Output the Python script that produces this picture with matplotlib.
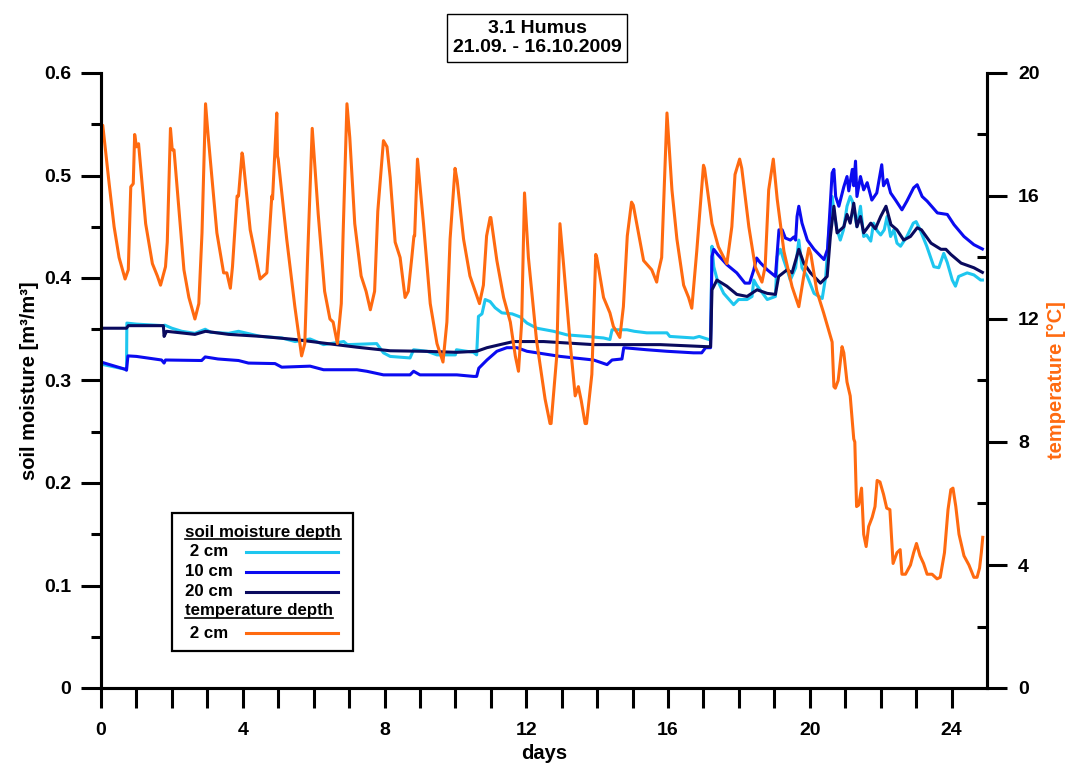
import matplotlib
matplotlib.use("Agg")
import matplotlib.pyplot as plt
import numpy as np
from matplotlib.lines import Line2D
from matplotlib.patches import Rectangle
from matplotlib.ticker import FixedLocator

plt.rcParams['font.family'] = ['Liberation Sans', 'DejaVu Sans']
plt.rcParams['font.weight'] = 'bold'
plt.rcParams['axes.labelweight'] = 'bold'

# soil moisture 2 cm
sm2_day = [0.0, 0.68, 0.72, 0.73, 1.0, 1.76, 1.8, 2.0, 2.28, 2.65, 2.94, 3.1, 3.6, 3.88, 4.5,
           5.1, 5.48, 5.9, 6.28, 6.85, 6.95, 7.78, 7.97, 8.16, 8.72, 8.82, 9.2, 9.48, 10.0,
           10.03, 10.51, 10.6, 10.65, 10.75, 10.84, 10.98, 11.12, 11.31, 11.6, 11.83, 12.02,
           12.3, 12.77, 13.15, 13.71, 14.18, 14.36, 14.42, 14.84, 15.05, 15.4, 15.97, 16.05,
           16.72, 16.88, 17.15, 17.2, 17.24, 17.29, 17.39, 17.57, 17.85, 17.99, 18.23, 18.37,
           18.42, 18.5, 18.8, 19.03, 19.08, 19.17, 19.26, 19.36, 19.45, 19.6, 19.69, 19.78,
           19.93, 20.12, 20.35, 20.45, 20.54, 20.63, 20.7, 20.77, 20.86, 20.95, 21.05, 21.14,
           21.2, 21.33, 21.43, 21.52, 21.6, 21.72, 21.8, 21.9, 22.0, 22.1, 22.18, 22.28, 22.37,
           22.46, 22.56, 22.74, 22.92, 23.0, 23.1, 23.3, 23.5, 23.64, 23.78, 23.88, 24.02,
           24.11, 24.2, 24.44, 24.63, 24.82, 24.87]
sm2 = [0.316, 0.311, 0.311, 0.356, 0.355, 0.3535, 0.354, 0.351, 0.348, 0.346, 0.350, 0.347,
       0.346, 0.348, 0.343, 0.3415, 0.338, 0.3405, 0.335, 0.338, 0.335, 0.336, 0.327, 0.3235,
       0.322, 0.330, 0.3285, 0.325, 0.325, 0.330, 0.3275, 0.325, 0.3625, 0.365, 0.379, 0.377,
       0.371, 0.366, 0.365, 0.362, 0.356, 0.351, 0.348, 0.3445, 0.343, 0.3415, 0.340, 0.3495,
       0.3495, 0.348, 0.3465, 0.3465, 0.343, 0.3415, 0.343, 0.340, 0.340, 0.431, 0.411, 0.398,
       0.385, 0.374, 0.379, 0.379, 0.382, 0.398, 0.393, 0.379, 0.382, 0.421, 0.428, 0.418,
       0.408, 0.398, 0.410, 0.437, 0.410, 0.4015, 0.385, 0.380, 0.4015, 0.447, 0.4795, 0.460,
       0.447, 0.437, 0.447, 0.470, 0.4795, 0.475, 0.450, 0.470, 0.4405, 0.442, 0.436, 0.4535,
       0.446, 0.442, 0.447, 0.460, 0.4405, 0.447, 0.434, 0.431, 0.4405, 0.4535, 0.455, 0.448,
       0.431, 0.411, 0.410, 0.424, 0.415, 0.398, 0.392, 0.4015, 0.405, 0.403, 0.398, 0.398]

# soil moisture 10 cm
sm10_day = [0.0, 0.68, 0.72, 0.76, 1.0, 1.71, 1.78, 1.82, 2.84, 2.94, 3.3, 3.88, 4.16, 4.91,
            5.1, 5.9, 6.28, 7.22, 7.5, 7.97, 8.72, 8.82, 9.0, 10.04, 10.51, 10.6, 10.66, 10.89,
            11.17, 11.45, 11.74, 12.02, 12.96, 13.9, 14.28, 14.42, 14.7, 14.75, 15.4, 15.97,
            16.72, 16.95, 17.06, 17.2, 17.24, 17.29, 17.4, 17.66, 17.94, 18.17, 18.3, 18.42,
            18.5, 18.6, 18.8, 19.03, 19.13, 19.22, 19.31, 19.45, 19.55, 19.6, 19.64, 19.69,
            19.78, 19.93, 20.12, 20.4, 20.5, 20.54, 20.63, 20.68, 20.73, 20.82, 20.96, 21.05,
            21.1, 21.2, 21.24, 21.29, 21.33, 21.43, 21.52, 21.62, 21.75, 21.89, 22.03, 22.08,
            22.18, 22.28, 22.42, 22.6, 22.74, 22.93, 23.03, 23.17, 23.31, 23.6, 23.88, 24.07,
            24.35, 24.63, 24.87]
sm10 = [0.318, 0.311, 0.310, 0.324, 0.3235, 0.320, 0.317, 0.320, 0.3195, 0.323, 0.321, 0.3195,
        0.317, 0.3165, 0.313, 0.314, 0.3105, 0.3105, 0.309, 0.3055, 0.3055, 0.309, 0.3055,
        0.3055, 0.304, 0.304, 0.312, 0.320, 0.3285, 0.332, 0.332, 0.3285, 0.3235, 0.320,
        0.3155, 0.320, 0.321, 0.332, 0.330, 0.3285, 0.327, 0.327, 0.332, 0.332, 0.421, 0.428,
        0.423, 0.413, 0.405, 0.395, 0.395, 0.408, 0.4195, 0.415, 0.408, 0.4015, 0.447, 0.447,
        0.439, 0.437, 0.440, 0.437, 0.460, 0.470, 0.4535, 0.437, 0.428, 0.418, 0.428, 0.450,
        0.5025, 0.506, 0.4795, 0.470, 0.489, 0.499, 0.485, 0.506, 0.490, 0.514, 0.4795, 0.499,
        0.486, 0.493, 0.476, 0.483, 0.5105, 0.490, 0.496, 0.483, 0.476, 0.4665, 0.475, 0.488,
        0.491, 0.4795, 0.475, 0.4635, 0.462, 0.452, 0.4405, 0.4325, 0.4283]

# soil moisture 20 cm
sm20_day = [0.0, 0.72, 0.77, 1.76, 1.78, 1.85, 2.65, 2.95, 3.6, 4.54, 5.48, 6.28, 7.22, 8.16,
            9.1, 10.04, 10.6, 10.89, 11.26, 11.64, 12.49, 13.9, 15.78, 17.1, 17.2, 17.24,
            17.38, 17.66, 17.94, 18.23, 18.51, 18.8, 19.03, 19.12, 19.36, 19.5, 19.69, 19.83,
            20.02, 20.3, 20.49, 20.58, 20.68, 20.77, 20.96, 21.05, 21.14, 21.24, 21.33, 21.43,
            21.52, 21.72, 21.85, 22.0, 22.15, 22.29, 22.46, 22.65, 22.84, 23.03, 23.15, 23.42,
            23.7, 23.84, 23.98, 24.27, 24.63, 24.87]
sm20 = [0.351, 0.351, 0.3535, 0.3535, 0.343, 0.348, 0.345, 0.348, 0.345, 0.343, 0.340, 0.3365,
        0.3325, 0.329, 0.3285, 0.3275, 0.3285, 0.332, 0.335, 0.338, 0.338, 0.335, 0.335, 0.333,
        0.333, 0.3885, 0.398, 0.392, 0.384, 0.382, 0.3885, 0.385, 0.384, 0.4015, 0.408, 0.405,
        0.428, 0.4145, 0.405, 0.395, 0.4015, 0.4405, 0.470, 0.444, 0.450, 0.462, 0.4535, 0.473,
        0.450, 0.460, 0.444, 0.4535, 0.448, 0.460, 0.470, 0.452, 0.447, 0.437, 0.4405, 0.449,
        0.447, 0.434, 0.428, 0.428, 0.423, 0.4145, 0.410, 0.4055]

# temperature 2 cm
t_day = [0.0, 0.05, 0.23, 0.37, 0.51, 0.68, 0.77, 0.84, 0.91, 0.95, 1.0, 1.06, 1.26, 1.45, 1.59,
         1.68, 1.82, 1.87, 1.96, 2.01, 2.06, 2.34, 2.48, 2.65, 2.76, 2.85, 2.95, 3.02, 3.27,
         3.46, 3.55, 3.65, 3.71, 3.84, 3.88, 3.98, 4.0, 4.21, 4.44, 4.49, 4.68, 4.72, 4.82,
         4.84, 4.96, 4.98, 5.0, 5.24, 5.47, 5.66, 5.75, 5.83, 5.96, 6.13, 6.31, 6.46, 6.55,
         6.67, 6.78, 6.83, 6.94, 7.02, 7.16, 7.34, 7.48, 7.6, 7.72, 7.81, 7.97, 8.07, 8.16,
         8.30, 8.44, 8.58, 8.67, 8.77, 8.83, 8.85, 8.93, 9.1, 9.29, 9.48, 9.65, 9.76, 9.85,
         9.99, 10.05, 10.23, 10.41, 10.68, 10.79, 10.88, 10.98, 11.0, 11.17, 11.36, 11.55,
         11.69, 11.78, 11.87, 11.95, 12.06, 12.29, 12.53, 12.67, 12.70, 12.86, 12.95, 13.05,
         13.24, 13.38, 13.47, 13.55, 13.66, 13.70, 13.85, 13.96, 13.99, 14.18, 14.36, 14.46,
         14.49, 14.64, 14.74, 14.85, 14.97, 15.02, 15.15, 15.31, 15.54, 15.68, 15.72, 15.82,
         15.97, 16.11, 16.25, 16.44, 16.58, 16.67, 16.81, 17.0, 17.03, 17.24, 17.42, 17.66,
         17.80, 17.89, 18.02, 18.08, 18.28, 18.46, 18.65, 18.74, 18.84, 18.97, 19.08, 19.27,
         19.5, 19.69, 19.83, 19.97, 20.03, 20.2, 20.39, 20.44, 20.54, 20.63, 20.68, 20.72,
         20.8, 20.91, 20.96, 21.05, 21.14, 21.24, 21.27, 21.32, 21.38, 21.46, 21.52, 21.59,
         21.66, 21.76, 21.84, 21.9, 21.98, 22.08, 22.17, 22.26, 22.35, 22.46, 22.55, 22.6,
         22.7, 22.84, 22.93, 23.01, 23.11, 23.21, 23.31, 23.45, 23.59, 23.68, 23.8, 23.9,
         23.98, 24.04, 24.12, 24.21, 24.35, 24.49, 24.63, 24.72, 24.79, 24.84, 24.88]
temp = [18.3, 18.3, 16.4, 15.0, 14.0, 13.3, 13.6, 16.3, 16.4, 18.0, 17.6, 17.7, 15.1, 13.8, 13.4,
        13.1, 13.7, 14.5, 18.2, 17.5, 17.5, 13.6, 12.7, 12.0, 12.5, 14.8, 19.0, 18.0, 14.8,
        13.5, 13.5, 13.0, 13.7, 16.0, 16.0, 17.4, 17.3, 14.9, 13.6, 13.3, 13.5, 14.2, 16.0,
        15.9, 18.7, 17.3, 17.2, 14.6, 12.4, 10.8, 11.2, 14.0, 18.2, 15.4, 12.9, 12.0, 11.9,
        11.2, 12.5, 14.7, 19.0, 17.9, 15.1, 13.4, 12.9, 12.3, 12.9, 15.5, 17.8, 17.6, 16.6,
        14.5, 14.0, 12.7, 12.9, 14.0, 14.7, 14.7, 17.2, 15.1, 12.5, 11.2, 10.6, 11.9, 14.6,
        16.9, 16.5, 14.6, 13.4, 12.5, 13.1, 14.7, 15.3, 15.3, 13.9, 12.7, 11.9,
        10.8, 10.3, 11.9, 16.1, 14.0, 11.3, 9.4, 8.6, 8.6, 10.8, 15.1, 13.8,
        11.2, 9.5, 9.8, 9.35, 8.6, 8.6, 10.2, 14.1, 14.0, 12.7, 12.2, 11.75,
        11.7, 11.4, 12.4, 14.7, 15.8, 15.7, 14.9, 13.9, 13.6, 13.2, 13.5, 14.0,
        18.7, 16.2, 14.6, 13.1, 12.7, 12.35, 14.2, 17.0, 16.9, 15.1, 14.35, 13.8,
        15.0, 16.7, 17.2, 16.9, 15.0, 13.7, 13.2, 13.7, 16.2, 17.2, 15.9, 14.2,
        13.05, 12.4, 13.4, 14.3, 14.1, 12.9, 12.2, 12.0, 11.6, 11.25, 9.8, 9.75,
        10.0, 11.1, 10.9, 9.95, 9.5, 8.1, 8.0, 5.9, 5.95, 6.5, 5.0, 4.6,
        5.25, 5.55, 5.9, 6.75, 6.7, 6.3, 5.85, 5.8, 4.05, 4.4, 4.5, 3.7,
        3.7, 4.0, 4.4, 4.7, 4.3, 4.05, 3.7, 3.7, 3.55, 3.6, 4.4, 5.8,
        6.45, 6.5, 5.9, 5.0, 4.3, 4.0, 3.6, 3.6, 3.9, 4.4, 4.9]

c_sm2 = '#1ec6ef'
c_sm10 = '#0b0bf0'
c_sm20 = '#0a0a5e'
c_temp = '#ff6a10'

W, H = 1072, 772
fig = plt.figure(figsize=(W / 100, H / 100), dpi=100)
ax = fig.add_axes([101 / W, 1 - 688 / H, (987 - 101) / W, (688 - 73) / H])
ax2 = ax.twinx()

lw = 2.2
ax.plot(sm2_day, sm2, color=c_sm2, lw=lw)
ax.plot(sm10_day, sm10, color=c_sm10, lw=lw)
ax.plot(sm20_day, sm20, color=c_sm20, lw=lw)
ax2.plot(t_day, temp, color=c_temp, lw=lw)

ax.set_xlim(0, 25)
ax.set_ylim(0, 0.6)
ax2.set_ylim(0, 20)

for a in (ax, ax2):
    a.spines['top'].set_visible(False)
    for s in ('left', 'right', 'bottom'):
        a.spines[s].set_linewidth(2.2)

tick_fs = 14
lab_fs = 14.5

# left axis
ax.set_yticks(np.arange(0, 0.61, 0.1))
ax.set_yticklabels(['0', '0.1', '0.2', '0.3', '0.4', '0.5', '0.6'])
ax.yaxis.set_minor_locator(FixedLocator([0.05, 0.15, 0.25, 0.35, 0.45, 0.55]))
ax.tick_params(axis='y', which='major', direction='out', length=14.4, width=2.2, pad=7, labelsize=tick_fs)
ax.tick_params(axis='y', which='minor', direction='out', length=7.2, width=2.2)

# x axis
ax.set_xticks(range(0, 25, 4))
ax.xaxis.set_minor_locator(FixedLocator(range(0, 25)))
ax.tick_params(axis='x', which='both', direction='out', length=14.4, width=2.2, pad=10, labelsize=tick_fs)

# right axis
ax2.set_yticks(range(0, 21, 4))
ax2.yaxis.set_minor_locator(FixedLocator([2, 6, 10, 14, 18]))
ax2.tick_params(axis='y', which='major', direction='out', length=14.4, width=2.2, pad=8, labelsize=tick_fs)
ax2.tick_params(axis='y', which='minor', direction='in', length=7.2, width=2.2)

ax.set_xlabel('days', fontsize=lab_fs, labelpad=4)
ax.set_ylabel('soil moisture [m³/m³]', fontsize=lab_fs, labelpad=4)
ax2.set_ylabel('temperature [°C]', fontsize=lab_fs, color=c_temp, labelpad=5)

# title box
fig.text(537 / W, 1 - 38 / H, '3.1 Humus\n21.09. - 16.10.2009', ha='center', va='center',
         fontsize=14, fontweight='bold', linespacing=1.2,
         bbox=dict(boxstyle='square,pad=0.3', fc='white', ec='black', lw=1.0))

# legend box
def fx(x):
    return x / W

def fy(y):
    return 1 - y / H

leg_fs = 12.2
fig.patches.append(Rectangle((fx(172), fy(651)), (353 - 172) / W, (651 - 513) / H,
                             transform=fig.transFigure, fc='white', ec='black', lw=1.6))
headers = []
headers.append(fig.text(fx(185), fy(532), 'soil moisture depth', fontsize=leg_fs, va='center'))
entries = [(' 2 cm', 552, c_sm2), ('10 cm', 572, c_sm10), ('20 cm', 592, c_sm20)]
for lab, yy, col in entries:
    fig.text(fx(185), fy(yy), lab, fontsize=leg_fs, va='center')
    fig.lines.append(Line2D([fx(246), fx(338)], [fy(yy), fy(yy)], color=col, lw=lw,
                            transform=fig.transFigure))
headers.append(fig.text(fx(185), fy(611), 'temperature depth', fontsize=leg_fs, va='center'))
fig.text(fx(185), fy(633), ' 2 cm', fontsize=leg_fs, va='center')
fig.lines.append(Line2D([fx(246), fx(338)], [fy(633), fy(633)], color=c_temp, lw=lw,
                        transform=fig.transFigure))

fig.canvas.draw()
r = fig.canvas.get_renderer()
for t in headers:
    bb = t.get_window_extent(r)
    fig.lines.append(Line2D([bb.x0, bb.x1], [bb.y0 + 1, bb.y0 + 1], color='black', lw=1.2,
                            transform=None))

fig.savefig('out.png', dpi=100)
